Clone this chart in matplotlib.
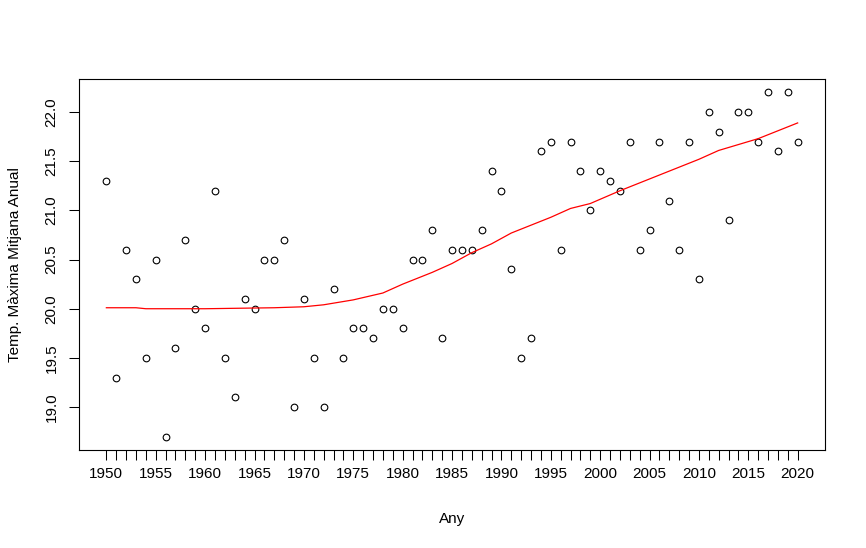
import matplotlib
matplotlib.use("Agg")
import matplotlib.pyplot as plt
import numpy as np

plt.rcParams['font.family'] = ['Liberation Sans', 'DejaVu Sans']

# annual mean maximum temperature, 1950-2020
years = list(range(1950, 2021))
temp = [21.3, 19.3, 20.6, 20.3, 19.5, 20.5, 18.7, 19.6, 20.7, 20.0,
        19.8, 21.2, 19.5, 19.1, 20.1, 20.0, 20.5, 20.5, 20.7, 19.0,
        20.1, 19.5, 19.0, 20.2, 19.5, 19.8, 19.8, 19.7, 20.0, 20.0,
        19.8, 20.5, 20.5, 20.8, 19.7, 20.6, 20.6, 20.6, 20.8, 21.4,
        21.2, 20.4, 19.5, 19.7, 21.6, 21.7, 20.6, 21.7, 21.4, 21.0,
        21.4, 21.3, 21.2, 21.7, 20.6, 20.8, 21.7, 21.1, 20.6, 21.7,
        20.3, 22.0, 21.8, 20.9, 22.0, 22.0, 21.7, 22.2, 21.6, 22.2,
        21.7]

# smoothed curve
smooth_years = [1950, 1953, 1954, 1960, 1967, 1970, 1972, 1975, 1978, 1980,
                1983, 1985, 1987, 1989, 1991, 1993, 1995, 1997, 1999, 2002,
                2006, 2010, 2012, 2016, 2020]
smooth_vals = [20.01, 20.01, 20.00, 20.00, 20.01, 20.02, 20.04, 20.09, 20.16, 20.25,
               20.37, 20.46, 20.57, 20.66, 20.77, 20.85, 20.93, 21.02, 21.07, 21.20,
               21.36, 21.52, 21.61, 21.73, 21.89]

fig = plt.figure(figsize=(8.66, 5.48), dpi=100)
ax = fig.add_axes([0.0909, 0.1783, 0.953 - 0.0909, 0.8564 - 0.1783])

ax.plot(years, temp, 'o', mfc='none', mec='black', ms=4.8, mew=0.8)
ax.plot(smooth_years, smooth_vals, color='red', lw=0.9)

ax.set_xlim(1947.2, 2022.8)
ax.set_ylim(18.56, 22.34)

ax.set_xticks(years)
ax.set_xticklabels([str(y) if y % 5 == 0 else '' for y in years])
ax.set_yticks([19.0, 19.5, 20.0, 20.5, 21.0, 21.5, 22.0])
ax.set_yticklabels(['19.0', '19.5', '20.0', '20.5', '21.0', '21.5', '22.0'],
                   rotation=90, va='center')

ax.tick_params(axis='both', length=7, width=0.75, labelsize=11, pad=5)
ax.tick_params(axis='y', pad=7.5)
for sp in ax.spines.values():
    sp.set_linewidth(0.8)

ax.set_xlabel('Any', fontsize=11, labelpad=22)
ax.set_ylabel('Temp. Màxima Mitjana Anual', fontsize=11, labelpad=16)

fig.savefig('out.png', dpi=100)
